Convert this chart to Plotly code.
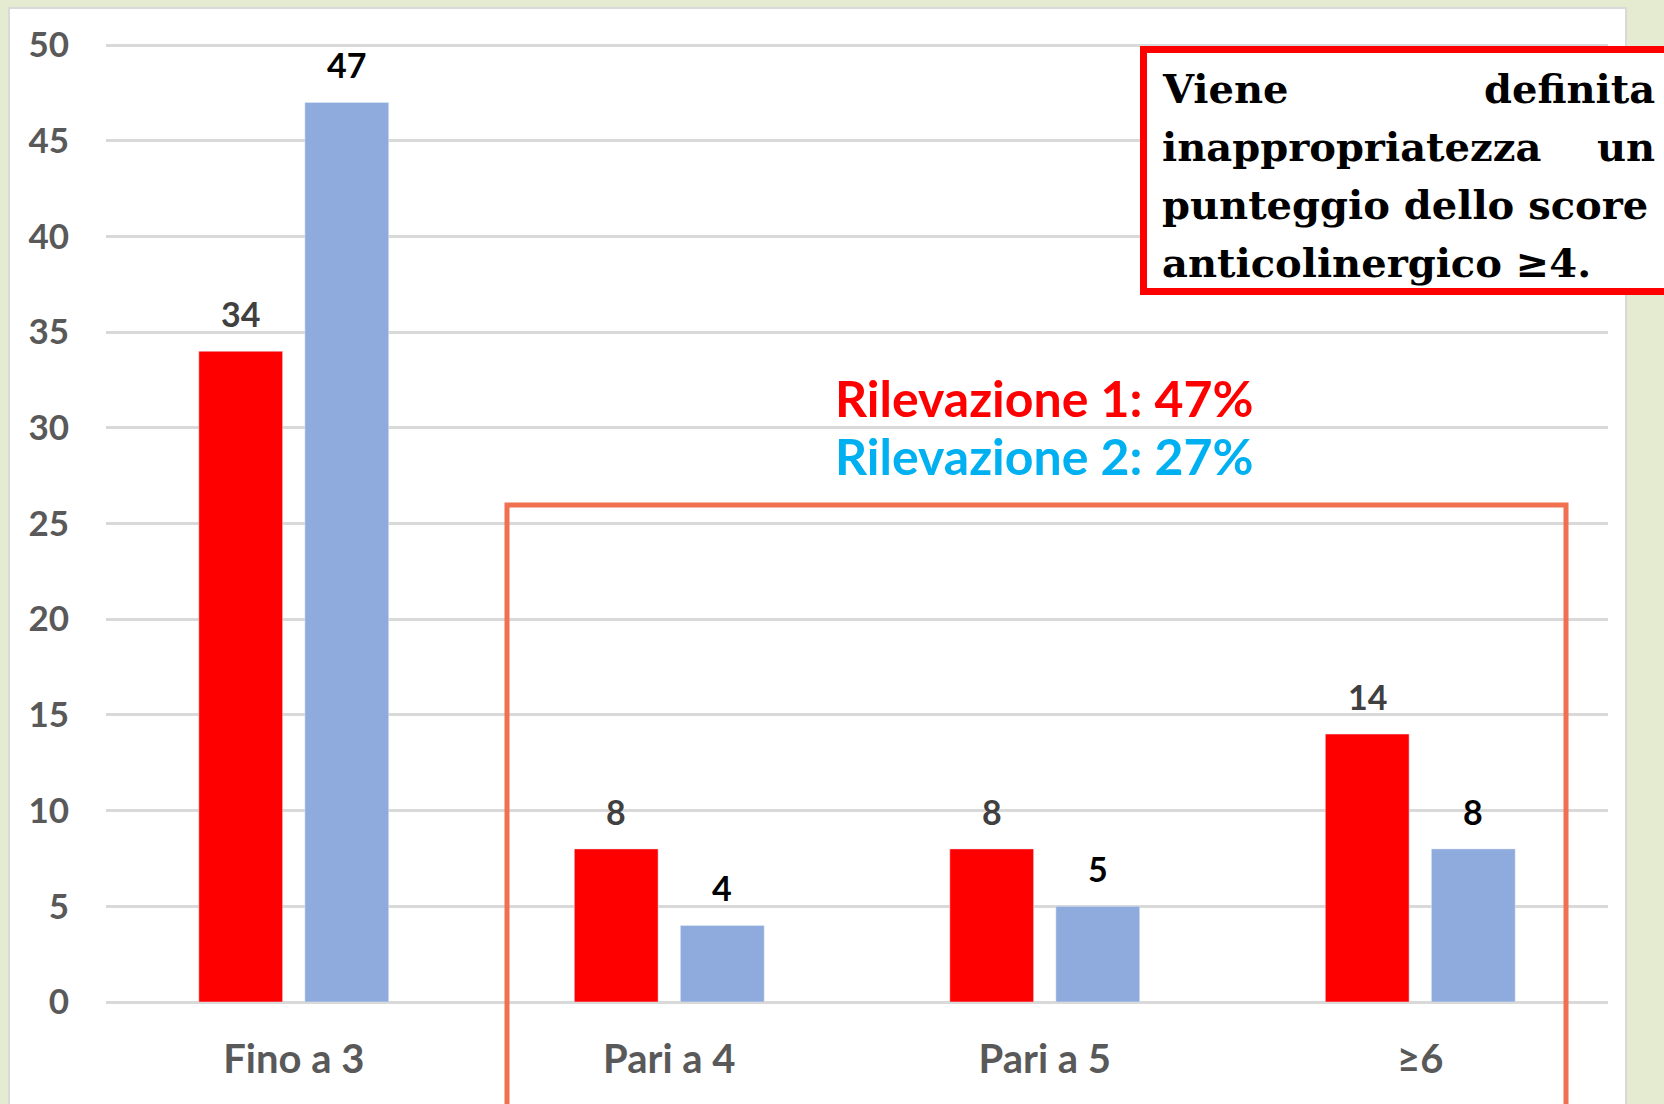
import plotly.graph_objects as go

categories = ["Fino a 3", "Pari a 4", "Pari a 5", "≥6"]
rilevazione_1 = [34, 8, 8, 14]
rilevazione_2 = [47, 4, 5, 8]
y_ticks = [0, 5, 10, 15, 20, 25, 30, 35, 40, 45, 50]
summary_lines = ["Rilevazione 1: 47%", "Rilevazione 2: 27%"]
note_lines = [["Viene", "definita"], ["inappropriatezza", "un"],
              ["punteggio dello score"], ["anticolinergico ≥4."]]

W, H = 1664, 1104
L, R, T, B = 106, 1608, 43, 1002
Y_TOP = 50 * (B - T) / 957.0   # 957 px per 50 units


def px(x):
    return (x - L) / (R - L)


def py(y):
    return (B - y) / (B - T)


RED = "#FF0000"
BLUE = "#8FAADC"

fig = go.Figure()
fig.add_trace(go.Bar(x=categories, y=rilevazione_1, marker_color=RED, name="Rilevazione 1",
                     hoverinfo="skip"))
fig.add_trace(go.Bar(x=categories, y=rilevazione_2, marker_color=BLUE, name="Rilevazione 2",
                     hoverinfo="skip"))

annotations = []
for i, (c, v) in enumerate(zip(categories, rilevazione_1)):
    annotations.append(dict(x=i, y=v, xref="x", yref="y", text=str(v), showarrow=False,
                            xshift=-53, yanchor="bottom", yshift=15,
                            font=dict(family="Lato", size=34, color="#404040", weight="bold")))
for i, (c, v) in enumerate(zip(categories, rilevazione_2)):
    annotations.append(dict(x=i, y=v, xref="x", yref="y", text=str(v), showarrow=False,
                            xshift=53, yanchor="bottom", yshift=15,
                            font=dict(family="Lato", size=34, color="#000000", weight="bold")))

# Summary text
annotations.append(dict(x=px(833), y=py(398), xref="paper", yref="paper", xanchor="left",
                        yanchor="middle", text=summary_lines[0], showarrow=False,
                        font=dict(family="Lato", size=50, color=RED, weight="bold")))
annotations.append(dict(x=px(833), y=py(456), xref="paper", yref="paper", xanchor="left",
                        yanchor="middle", text=summary_lines[1], showarrow=False,
                        font=dict(family="Lato", size=50, color="#00B0F0", weight="bold")))

# Note box text (justified manually)
baselines = [88, 146, 204, 262]
nfont = dict(family="DejaVu Serif", size=40, color="#000000", weight="bold")
for line, yb in zip(note_lines, baselines):
    annotations.append(dict(x=px(1160), y=py(yb), xref="paper", yref="paper", xanchor="left",
                            yanchor="middle", text=line[0], showarrow=False, font=nfont))
    if len(line) > 1:
        annotations.append(dict(x=px(1657), y=py(yb), xref="paper", yref="paper",
                                xanchor="right", yanchor="middle", text=line[1],
                                showarrow=False, font=nfont))

shapes = [
    # white panel
    dict(type="rect", xref="paper", yref="paper", x0=px(9), x1=px(1626), y0=py(8), y1=py(1120),
         fillcolor="white", line=dict(color="#D9D9D9", width=2), layer="below"),
    # note box
    dict(type="rect", xref="paper", yref="paper", x0=px(1143.5), x1=px(1720), y0=py(49.5),
         y1=py(291.5), fillcolor="white", line=dict(color=RED, width=7), layer="above"),
    # coral highlight box
    dict(type="rect", xref="paper", yref="paper", x0=px(507), x1=px(1566), y0=py(505),
         y1=py(1150), fillcolor="rgba(0,0,0,0)", line=dict(color="#F07050", width=5),
         layer="above"),
]

fig.update_layout(
    width=W, height=H,
    margin=dict(l=L, r=W - R, t=T, b=H - B, pad=0),
    paper_bgcolor="#E4EBD0",
    plot_bgcolor="rgba(0,0,0,0)",
    barmode="group", bargap=0.435, bargroupgap=0.21,
    showlegend=False,
    hovermode=False,
    annotations=annotations,
    shapes=shapes,
    xaxis=dict(showgrid=False, showline=False, zeroline=False, ticks="",
               tickfont=dict(family="Lato", size=40, color="#595959", weight="bold"),
               ticklabelstandoff=30),
    yaxis=dict(range=[0, Y_TOP], tickvals=y_ticks, showgrid=True, gridcolor="#D9D9D9",
               gridwidth=2.5, zeroline=True, zerolinecolor="#D9D9D9", zerolinewidth=2.5,
               showline=False, ticks="",
               tickfont=dict(family="Lato", size=35, color="#595959", weight="bold"),
               ticklabelstandoff=36),
)

fig.write_html("out.html", config={"displayModeBar": False},
               post_script="document.body.style.margin='0';"
                           "document.body.style.overflow='hidden';"
                           "document.body.style.background='#E4EBD0';")
